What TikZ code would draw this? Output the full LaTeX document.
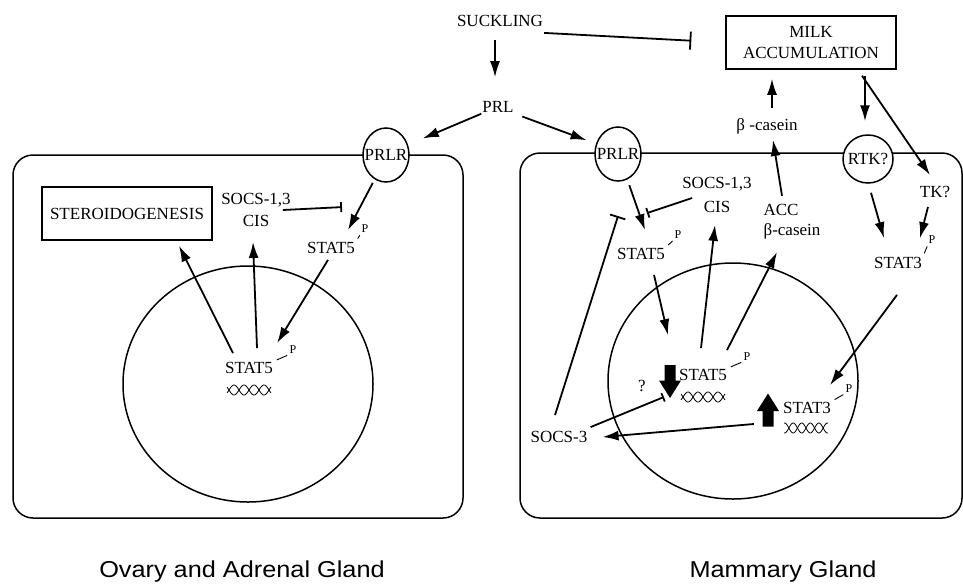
\documentclass[tikz,border=0pt]{standalone}
\usepackage{fontspec}
\setmainfont{Liberation Serif}
\newfontfamily\labfont{Liberation Sans}
\usetikzlibrary{arrows.meta,shapes.geometric}

\tikzset{
  lbl/.style={font=\fontsize{17}{19}\selectfont, inner sep=1pt, align=center},
  phos/.style={font=\fontsize{12}{12}\selectfont, inner sep=0.5pt},
  rcpt/.style={ellipse, draw, line width=1.5pt, fill=white, inner sep=0pt},
  nucleus/.style={ellipse, draw, line width=1.5pt, minimum width=250pt, minimum height=236pt},
  box/.style={draw, line width=1.5pt},
  cellwall/.style={line width=1.5pt, rounded corners=20pt},
  act/.style={line width=1.8pt, -{Latex[length=16pt,width=10pt]}},
  inh/.style={line width=1.8pt, -{Bar[width=#1]}},
  inh/.default=10pt,
  pdash/.style={line width=0.9pt, shorten <=3pt, shorten >=2pt},
  dna/.pic={
    \draw[line width=0.8pt] plot[domain=-22:22,samples=60,smooth] (\x,{5*sin(#1*\x)});
    \draw[line width=0.8pt] plot[domain=-22:22,samples=60,smooth] (\x,{-5*sin(#1*\x)});
  },
  bigarrow/.pic={
    \fill (-5.5,16.5) -- (-5.5,1) -- (-11,1) -- (0,-16.5) -- (11,1) -- (5.5,1) -- (5.5,16.5) -- cycle;
  },
}

\begin{document}
\begin{tikzpicture}[x=1pt,y=-1pt]
    \useasboundingbox (0,0) rectangle (963,584);
    % cells and nuclei
    \draw[cellwall] (13,155) rectangle (463,518);
    \draw[cellwall] (520,153) rectangle (962,518);
    \node[nucleus] (nucL) at (248,384) {};
    \node[nucleus] (nucR) at (733,381) {};
    % receptors
    \node[rcpt, minimum width=46pt, minimum height=54pt] (prlrL) at (386,155) {};
    \node[lbl] (prlrLt) at (prlrL) {PRLR};
    \node[rcpt, minimum width=46pt, minimum height=54pt] (prlrR) at (618,154) {};
    \node[lbl] (prlrRt) at (prlrR) {PRLR};
    \node[rcpt, minimum width=50pt, minimum height=48pt] (rtk) at (868,159) {};
    \node[lbl] (rtkt) at (rtk) {RTK?};

    % top
    \node[lbl] (suck) at (500,21) {SUCKLING};
    \node[lbl] (prl) at (498,107) {PRL};
    \node[box, lbl, minimum width=170pt, minimum height=53pt, font=\fontsize{17}{21}\selectfont] (milk) at (811,42.5) {MILK\\ACCUMULATION};
    \node[lbl] (betaT) at (767,126) {β -casein};

    % ovary and adrenal gland
    \node[box, lbl, minimum width=170pt, minimum height=53pt] (steroid) at (127,213.5) {STEROIDOGENESIS};
    \node[lbl, font=\fontsize{17}{22}\selectfont] (socsL) at (256,210) {SOCS-1,3\\CIS};
    \node[lbl] (stat5cL) at (331,248) {STAT5};
    \node[phos] (pL1) at (365,229) {P};
    \node[lbl] (stat5nL) at (249,368) {STAT5};
    \node[phos] (pL2) at (293,350) {P};
    \pic at (249,390) {dna=18};

    % mammary gland
    \node[lbl, font=\fontsize{17}{24}\selectfont] (socsR) at (717,195) {SOCS-1,3\\CIS};
    \node[lbl, align=left, font=\fontsize{17}{20}\selectfont] (accR) at (792,222) {ACC\\β-casein};
    \node[lbl] (tk) at (935,192) {TK?};
    \node[lbl] (stat5cR) at (641,254) {STAT5};
    \node[phos] (pR1) at (678,235) {P};
    \node[lbl] (stat3c) at (898,263) {STAT3};
    \node[phos] (pR3) at (932,240) {P};
    \node[lbl] (stat5nR) at (703,375) {STAT5};
    \node[phos] (pR2) at (747,357) {P};
    \pic at (703,397) {dna=18};
    \node[lbl] (stat3n) at (807,408) {STAT3};
    \node[phos] (pR4) at (849,389) {P};
    \pic at (806,428) {dna=21};
    \node[lbl] (socs3) at (559,437) {SOCS-3};
    \node[lbl] (qm) at (642,386) {?};
    \pic[rotate=180] at (670,381.5) {bigarrow};
    \pic at (768,410) {bigarrow};

    % phospho dashes
    \draw[pdash] (stat5cL.north east) -- (pL1.south west);
    \draw[pdash] (stat5nL.north east) -- (pL2.south west);
    \draw[pdash] (stat5cR.north east) -- (pR1.south west);
    \draw[pdash] (stat5nR.north east) -- (pR2.south west);
    \draw[pdash] (stat3c.north east) -- (pR3.south west);
    \draw[pdash] (stat3n.north east) -- (pR4.south west);

    % top connectors
    \draw[act, shorten <=12pt, shorten >=23pt] ([xshift=-5pt]suck.south) -- ([xshift=-3pt]prl.north);
    \draw[inh=18pt, shorten >=34pt] ([yshift=-5pt]suck.south east) -- (milk.west);
    \draw[act, shorten >=16pt] (prl.south west) -- (prlrL.25);
    \draw[act, shorten <=8pt, shorten >=10pt] (prl.south east) -- (prlrR.155);
    \draw[act] ([xshift=5pt,yshift=9pt]betaT.north) -- ([xshift=-39pt,yshift=-9pt]milk.south);
    \draw[act, shorten <=6pt, shorten >=13pt] ([xshift=54pt]milk.south) -- ([xshift=-3pt]rtk.north);
    \draw[act] ([xshift=51pt,yshift=-6pt]milk.south) -- ([xshift=-5pt,yshift=10pt]tk.north);

    % left cell
    \draw[act, shorten <=4pt] (prlrL.-115) -- ([xshift=17pt,yshift=11pt]stat5cL.north);
    \draw[inh] ([xshift=-9pt]socsL.east) -- ([xshift=11pt,yshift=34pt]stat5cL.north);
    \draw[act] ([xshift=-3pt,yshift=-5pt]stat5cL.south) -- ([xshift=3pt,yshift=18pt]stat5nL.north east);
    \draw[act] ([xshift=-16pt,yshift=8pt]stat5nL.north) -- ([xshift=52pt,yshift=-5pt]steroid.south);
    \draw[act] ([xshift=8pt,yshift=13pt]stat5nL.north) -- ([xshift=-3pt,yshift=-14pt]socsL.south);

    % right cell
    \draw[act, shorten <=6pt] (prlrR.-70) -- ([xshift=4pt,yshift=17pt]stat5cR.north);
    \draw[inh] ([xshift=11pt,yshift=-3pt]socsR.west) -- ([xshift=6pt,yshift=34pt]stat5cR.north);
    \draw[inh=16pt] ([xshift=-4pt,yshift=15pt]socs3.north) -- ([xshift=-23pt,yshift=31pt]stat5cR.north);
    \draw[act] ([xshift=13pt,yshift=-14pt]stat5cR.south) -- ([xshift=-35pt,yshift=33pt]stat5nR.north);
    \draw[act] ([xshift=-2pt,yshift=20pt]stat5nR.north) -- ([xshift=-2pt,yshift=-11pt]socsR.south);
    \draw[act] ([xshift=24pt,yshift=18pt]stat5nR.north) -- ([xshift=-15pt,yshift=-11.5pt]accR.south);
    \draw[act] ([xshift=-10pt,yshift=7.5pt]accR.north) -- ([xshift=6pt,yshift=-5pt]betaT.south);
    \draw[act] ([xshift=3pt,yshift=-9pt]rtk.south) -- ([xshift=-14pt,yshift=18pt]stat3c.north);
    \draw[act] ([xshift=-7pt,yshift=-8pt]tk.south) -- ([xshift=22pt,yshift=18pt]stat3c.north);
    \draw[act] ([xshift=-1pt,yshift=-25pt]stat3c.south) -- ([xshift=23pt,yshift=16pt]stat3n.north);
    \draw[act] ([xshift=-28pt,yshift=-16pt]stat3n.west) -- ([xshift=14pt]socs3.east);
    \draw[inh=9pt] ([xshift=2pt,yshift=3pt]socs3.north east) -- ([xshift=-14pt,yshift=-22pt]stat5nR.west);

    % captions
    \node[font=\labfont\fontsize{23}{25}\selectfont] (ovary) at (242,572) {\scalebox{1.1}[1]{Ovary and Adrenal Gland}};
    \node[font=\labfont\fontsize{23}{25}\selectfont] (mammary) at (783,572) {\scalebox{1.1}[1]{Mammary Gland}};
\end{tikzpicture}
\end{document}
